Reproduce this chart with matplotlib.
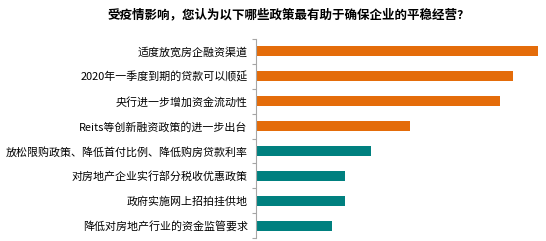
import matplotlib
matplotlib.use("Agg")
import matplotlib.pyplot as plt
import numpy as np

plt.rcParams['font.family'] = ['Noto Sans CJK SC', 'DejaVu Sans']

# categories, top to bottom
labels = [
    "适度放宽房企融资渠道",
    "2020年一季度到期的贷款可以顺延",
    "央行进一步增加资金流动性",
    "Reits等创新融资政策的进一步出台",
    "放松限购政策、降低首付比例、降低购房贷款利率",
    "对房地产企业实行部分税收优惠政策",
    "政府实施网上招拍挂供地",
    "降低对房地产行业的资金监管要求",
]
values = [56.4, 51.4, 48.8, 30.8, 23.0, 17.8, 17.8, 15.2]
colors = ["#E46C0A"] * 4 + ["#00807F"] * 4

title = "受疫情影响，您认为以下哪些政策最有助于确保企业的平稳经营?"

fig = plt.figure(figsize=(5.46, 2.41), dpi=100)
ax = fig.add_axes([256 / 546, 1 - 238 / 241, 290 / 546, 199 / 241])

y = np.arange(len(labels))
ax.barh(y, values, height=0.4, color=colors)
ax.set_ylim(len(labels) - 0.5, -0.5)
ax.set_xlim(0, 58)

ax.set_yticks(y)
ax.set_yticklabels(labels, fontsize=7.9, color="#000000")
ax.set_yticks(np.arange(-0.5, len(labels)), minor=True)
ax.tick_params(axis="y", which="major", length=0, pad=6)
ax.tick_params(axis="y", which="minor", length=3, color="#A6A6A6", width=0.8)
ax.set_xticks([])

for s in ["top", "right", "bottom"]:
    ax.spines[s].set_visible(False)
ax.spines["left"].set_color("#A6A6A6")
ax.spines["left"].set_linewidth(0.8)

fig.text(286 / 546, 1 - 15 / 241, title, ha="center", va="center",
         fontsize=9, fontweight="bold")

fig.savefig("out.png", dpi=100)
